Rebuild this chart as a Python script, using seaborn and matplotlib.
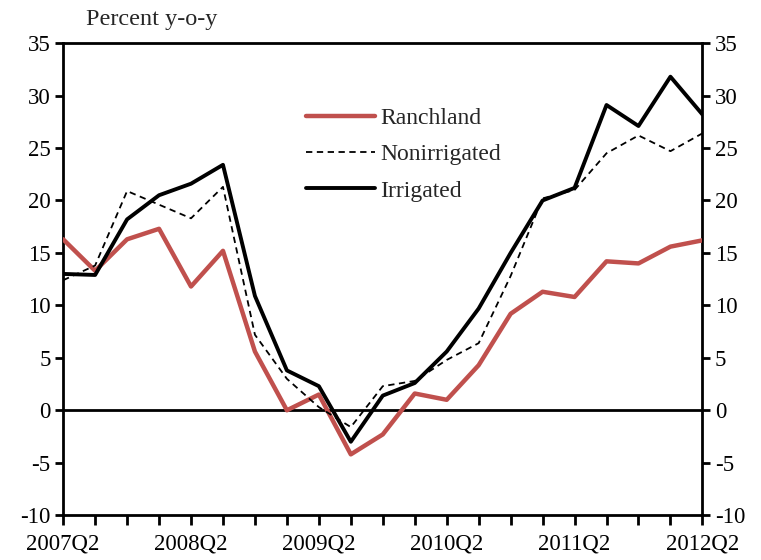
import pandas as pd
import seaborn as sns
import matplotlib.pyplot as plt

# Quarterly data, 2007Q2 - 2012Q2
quarters = [f"{y}Q{q}" for y in range(2007, 2013) for q in range(1, 5)][1:22]
ranchland = [16.3, 13.3, 16.3, 17.3, 11.8, 15.2, 5.6, 0.0, 1.5, -4.2, -2.3,
             1.6, 1.0, 4.3, 9.2, 11.3, 10.8, 14.2, 14.0, 15.6, 16.2]
nonirrigated = [12.4, 13.8, 20.9, 19.6, 18.3, 21.3, 7.2, 3.0, 0.3, -1.6, 2.3,
                2.8, 4.8, 6.4, 12.8, 20.2, 21.0, 24.5, 26.2, 24.7, 26.4]
irrigated = [13.0, 12.9, 18.2, 20.5, 21.6, 23.4, 10.9, 3.8, 2.3, -3.0, 1.4,
             2.6, 5.6, 9.7, 15.0, 20.0, 21.2, 29.1, 27.1, 31.8, 28.2]
tick_labels = ["2007Q2", "2008Q2", "2009Q2", "2010Q2", "2011Q2", "2012Q2"]

df = pd.DataFrame({"Quarter": quarters, "Ranchland": ranchland,
                   "Nonirrigated": nonirrigated, "Irrigated": irrigated})
df["idx"] = range(len(df))
long_df = df.melt(id_vars=["Quarter", "idx"], var_name="Series", value_name="Value")

sns.set_style("ticks")
plt.rcParams["font.family"] = ["Liberation Serif", "DejaVu Serif"]
plt.rcParams["axes.unicode_minus"] = False

fig = plt.figure(figsize=(7.61, 5.6), dpi=100)
ax = fig.add_axes([0.083, 0.080, 0.840, 0.843])

styles = {"Ranchland": dict(color="#C0504D", lw=3.2, ls="-"),
          "Nonirrigated": dict(color="black", lw=1.3, ls=(0, (3.5, 2.5))),
          "Irrigated": dict(color="black", lw=2.8, ls="-")}
for name, st in styles.items():
    sns.lineplot(data=long_df[long_df["Series"] == name], x="idx", y="Value",
                 ax=ax, color=st["color"], linewidth=st["lw"],
                 linestyle=st["ls"], label=name, zorder=3)

ax.axhline(0, color="black", lw=2, zorder=2)

ax.set_xlim(0, len(quarters) - 1)
ax.set_ylim(-10, 35)
ax.set_xticks(range(0, len(quarters), 4))
ax.set_xticklabels(tick_labels)
ax.set_xticks(range(len(quarters)), minor=True)
ax.set_yticks(range(-10, 36, 5))
ax.set_xlabel("")
ax.set_ylabel("")

for s in ax.spines.values():
    s.set_linewidth(2)
    s.set_color("black")

ax.tick_params(axis="both", which="both", direction="out", width=2, colors="black",
               labelsize=16.5)
ax.tick_params(axis="x", which="major", length=7, pad=6)
ax.tick_params(axis="x", which="minor", length=7)
ax.tick_params(axis="y", length=6, pad=3, right=True, labelright=True)

ax.text(0.035, 1.05, "Percent y-o-y", transform=ax.transAxes, fontsize=17.5,
        ha="left", va="center")

leg = ax.legend(loc="upper left", bbox_to_anchor=(0.346, 0.908), frameon=False,
                fontsize=17, handlelength=2.95, handletextpad=0.22, labelspacing=0.62)

fig.savefig("out.png", dpi=100)
